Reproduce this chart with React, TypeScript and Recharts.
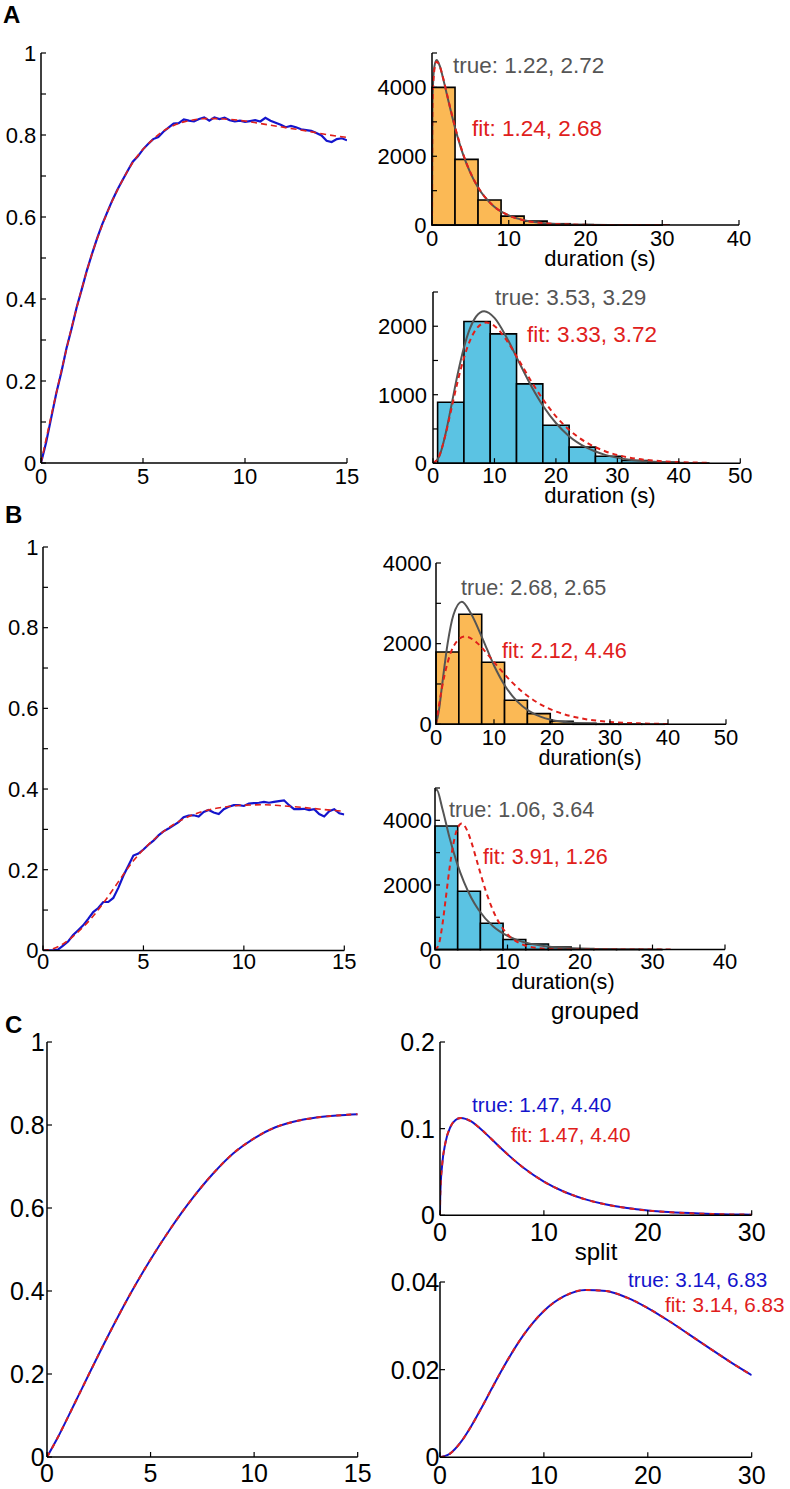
import React from 'react';
import { ComposedChart, Line, XAxis, YAxis, ReferenceArea } from 'recharts';

const FONT = '"Liberation Sans", Arial, Helvetica, sans-serif';
const ORANGE = '#FBB955';
const CYAN = '#5BC3E3';
const GRAY = '#555555';
const RED = '#E0201B';
const BLUE = '#1414CC';

// ---------- Panel A, left (time course) ----------
const A1_FIT_X = [0, 0.5, 1, 1.5, 2, 2.5, 3, 3.5, 4, 4.5, 5, 5.5, 6, 6.5, 7, 7.5, 8, 8.5, 9, 10, 11, 12, 13, 14, 15];
const A1_FIT_Y = [0, 0.115, 0.225, 0.33, 0.425, 0.51, 0.58, 0.64, 0.69, 0.733, 0.765, 0.79, 0.81, 0.823, 0.832, 0.837, 0.84, 0.84, 0.839, 0.834, 0.826, 0.818, 0.81, 0.801, 0.794];
const A1_OBS_X = [0, 0.25, 0.5, 0.75, 1, 1.25, 1.5, 1.75, 2, 2.25, 2.5, 2.75, 3, 3.25, 3.5, 3.75, 4, 4.25, 4.5, 4.75, 5, 5.25, 5.5, 5.75, 6, 6.25, 6.5, 6.75, 7, 7.25, 7.5, 7.75, 8, 8.25, 8.5, 8.75, 9, 9.25, 9.5, 9.75, 10, 10.25, 10.5, 10.75, 11, 11.25, 11.5, 11.75, 12, 12.25, 12.5, 12.75, 13, 13.25, 13.5, 13.75, 14, 14.25, 14.5, 14.75, 15];
const A1_OBS_Y = [0, 0.05, 0.11, 0.17, 0.222, 0.28, 0.328, 0.38, 0.424, 0.47, 0.51, 0.548, 0.582, 0.612, 0.641, 0.667, 0.69, 0.713, 0.735, 0.748, 0.765, 0.778, 0.79, 0.795, 0.808, 0.818, 0.828, 0.829, 0.838, 0.835, 0.833, 0.839, 0.843, 0.835, 0.843, 0.839, 0.842, 0.836, 0.833, 0.835, 0.832, 0.834, 0.836, 0.833, 0.842, 0.835, 0.83, 0.825, 0.819, 0.822, 0.819, 0.814, 0.812, 0.81, 0.805, 0.799, 0.786, 0.783, 0.79, 0.792, 0.787];

// ---------- Panel A, top-right histogram ----------
const A2_BIN_START = 0;
const A2_BIN_WIDTH = 3.0;
const A2_COUNTS = [4000, 1910, 727, 262, 116, 40, 14, 5, 2, 1];
const A2_TRUE_X = [0, 0.05, 0.1, 0.3, 0.6, 1, 1.5, 2, 3, 4, 5, 6, 8, 10, 12, 15, 20, 25, 31];
const A2_TRUE_Y = [0, 3395, 3885, 4595, 4796, 4631, 4212, 3736, 2828, 2085, 1517, 1092, 558, 281, 140, 49, 8, 1, 0];
const A2_FIT_X = [0, 0.05, 0.1, 0.3, 0.6, 1, 1.5, 2, 3, 4, 5, 6, 8, 10, 12, 15, 20, 25, 31];
const A2_FIT_Y = [0, 3210, 3721, 4495, 4747, 4622, 4227, 3758, 2853, 2104, 1529, 1100, 559, 279, 138, 48, 8, 1, 0];

// ---------- Panel A, bottom-right histogram ----------
const A3_BIN_START = 0.75;
const A3_BIN_WIDTH = 4.28;
const A3_COUNTS = [890, 2069, 1889, 1159, 555, 234, 102, 40, 15, 5];
const A3_TRUE_X = [0, 1, 2, 3, 4, 5, 6, 7, 8.32, 10, 12, 14, 16, 18, 20, 22, 25, 28, 32, 36, 40, 45];
const A3_TRUE_Y = [0, 97, 412, 847, 1294, 1679, 1966, 2141, 2220, 2122, 1833, 1474, 1125, 825, 587, 406, 226, 121, 50, 20, 8, 2];
const A3_FIT_X = [0, 1, 2, 3, 4, 5, 6, 7, 8.67, 10, 12, 14, 16, 18, 20, 22, 25, 28, 32, 36, 40, 45];
const A3_FIT_Y = [0, 105, 405, 796, 1189, 1528, 1787, 1955, 2055, 2004, 1791, 1498, 1194, 918, 685, 500, 301, 175, 81, 37, 16, 6];

// ---------- Panel B, left (time course) ----------
const B1_FIT_X = [0, 0.5, 1, 1.5, 2, 2.5, 3, 3.5, 4, 4.5, 5, 5.5, 6, 6.5, 7, 7.5, 8, 8.5, 9, 10, 11, 12, 13, 14, 15];
const B1_FIT_Y = [0, 0.004, 0.016, 0.035, 0.058, 0.085, 0.117, 0.152, 0.188, 0.222, 0.25, 0.274, 0.295, 0.312, 0.326, 0.337, 0.345, 0.351, 0.355, 0.36, 0.361, 0.358, 0.354, 0.349, 0.345];
const B1_OBS_X = [0, 0.25, 0.5, 0.75, 1, 1.25, 1.5, 1.75, 2, 2.25, 2.5, 2.75, 3, 3.25, 3.5, 3.75, 4, 4.25, 4.5, 4.75, 5, 5.25, 5.5, 5.75, 6, 6.25, 6.5, 6.75, 7, 7.25, 7.5, 7.75, 8, 8.25, 8.5, 8.75, 9, 9.25, 9.5, 9.75, 10, 10.25, 10.5, 10.75, 11, 11.25, 11.5, 11.75, 12, 12.25, 12.5, 12.75, 13, 13.25, 13.5, 13.75, 14, 14.25, 14.5, 14.75, 15];
const B1_OBS_Y = [0, 0, 0, 0.002, 0.012, 0.022, 0.038, 0.05, 0.062, 0.078, 0.095, 0.105, 0.12, 0.12, 0.13, 0.155, 0.185, 0.21, 0.235, 0.24, 0.25, 0.262, 0.272, 0.285, 0.295, 0.302, 0.31, 0.318, 0.33, 0.334, 0.335, 0.332, 0.343, 0.348, 0.342, 0.338, 0.35, 0.356, 0.36, 0.36, 0.358, 0.364, 0.365, 0.366, 0.368, 0.366, 0.368, 0.37, 0.372, 0.36, 0.35, 0.35, 0.351, 0.348, 0.35, 0.338, 0.332, 0.345, 0.35, 0.34, 0.337];

// ---------- Panel B, top-right histogram ----------
const B2_BIN_START = 0;
const B2_BIN_WIDTH = 3.94;
const B2_COUNTS = [1793, 2728, 1538, 595, 265, 75, 25, 8, 3, 1];
const B2_TRUE_X = [0, 0.5, 1, 2, 3, 4.45, 6, 8, 10, 12, 14, 16, 18, 20, 23, 26, 30];
const B2_TRUE_Y = [0, 343, 910, 1999, 2709, 3040, 2752, 2133, 1459, 932, 568, 334, 191, 107, 44, 17, 4];
const B2_FIT_X = [0, 0.5, 1, 2, 3, 5, 7, 9, 11, 13, 15, 18, 21, 25, 30, 35, 40];
const B2_FIT_Y = [0, 454, 881, 1531, 1926, 2180, 2030, 1717, 1373, 1057, 793, 496, 301, 149, 60, 23, 9];

// ---------- Panel B, bottom-right histogram ----------
const B3_BIN_START = 0;
const B3_BIN_WIDTH = 3.13;
const B3_COUNTS = [3824, 1806, 815, 313, 175, 80, 30, 10, 4, 1];
const B3_TRUE_X = [0, 0.218, 1, 2, 3, 4, 5, 6, 8, 10, 12, 15, 18, 22, 26, 30];
const B3_TRUE_Y = [4900, 4950, 4375, 3465, 2698, 2085, 1606, 1234, 724, 424, 247, 110, 49, 16, 5, 2];
const B3_FIT_X = [0, 0.5, 1, 1.5, 2, 2.5, 3, 3.67, 4.5, 5, 6, 7, 8, 9, 10, 11, 12, 14, 16, 20, 25, 33];
const B3_FIT_Y = [0, 146, 738, 1615, 2509, 3230, 3691, 3900, 3654, 3338, 2566, 1817, 1212, 772, 474, 283, 165, 53, 16, 1, 0, 0];

// ---------- Panel C ----------
const C1_X = [0, 0.5, 1, 1.5, 2, 3, 4, 5, 6, 7, 8, 9, 10, 11, 12, 13, 14, 15];
const C1_Y = [0, 0.045, 0.095, 0.146, 0.197, 0.297, 0.391, 0.476, 0.553, 0.622, 0.682, 0.732, 0.768, 0.794, 0.809, 0.818, 0.823, 0.826];
const C2_X = [0, 0.01, 0.05, 0.2, 0.5, 1, 1.5, 2, 3, 4, 5, 6, 8, 10, 12, 14, 16, 18, 20, 22, 25, 28, 30];
const C2_Y = [0, 0.0147, 0.0309, 0.0574, 0.0824, 0.1019, 0.11, 0.1124, 0.1084, 0.0988, 0.0875, 0.0759, 0.0552, 0.0389, 0.0269, 0.01835, 0.0124, 0.00832, 0.00555, 0.00368, 0.00198, 0.00106, 0.00069];
const C3_X = [0, 1, 2, 3, 4, 5, 6, 8, 10, 12, 14, 16, 18, 20, 22, 24, 26, 28, 30];
const C3_Y = [0, 0.000904, 0.00344, 0.00708, 0.01131, 0.01576, 0.0201, 0.02777, 0.03339, 0.03681, 0.0382, 0.03793, 0.03643, 0.03405, 0.03116, 0.028, 0.02479, 0.02166, 0.01874];

// ---------- axis ticks ----------
const T_TIME_X = [0, 5, 10, 15];
const T_FRAC_Y = [0, 0.1, 0.2, 0.3, 0.4, 0.5, 0.6, 0.7, 0.8, 0.9, 1];
const L_FRAC_Y = [0, 0.2, 0.4, 0.6, 0.8, 1];
const T_FRAC_Y_C = [0, 0.2, 0.4, 0.6, 0.8, 1];
const T_X40 = [0, 10, 20, 30, 40];
const T_X50 = [0, 10, 20, 30, 40, 50];
const T_X30 = [0, 10, 20, 30];
const T_Y5000 = [0, 1000, 2000, 3000, 4000, 5000];
const L_Y5000 = [0, 2000, 4000];
const T_Y2500 = [0, 500, 1000, 1500, 2000, 2500];
const L_Y2500 = [0, 1000, 2000];
const T_Y4000 = [0, 1000, 2000, 3000, 4000];
const L_Y4000 = [0, 2000, 4000];
const T_Y02 = [0, 0.1, 0.2];
const T_Y004 = [0, 0.02, 0.04];

const zip = (xs: number[], ys: number[]) => xs.map((x, i) => ({ x, y: ys[i] }));

type Curve = { xs: number[]; ys: number[]; color: string; width: number; dash?: string; kind: 'monotone' | 'linear' };
type Hist = { start: number; width: number; counts: number[]; fill: string };

type PanelProps = {
  rect: [number, number, number, number];
  xDomain: [number, number];
  xTicks: number[];
  yDomain: [number, number];
  yTicks: number[];
  yLabeled: number[];
  fs: number;
  yGap: number;
  xGap: number;
  hist?: Hist;
  curves: Curve[];
};

const TICK_LEN = 5;

// y-axis tick: inward tick mark + right-aligned label
const makeYTick = (fs: number, labeled: number[], axisX: number, gap: number) => (p: any) => {
  const v = p.payload && p.payload.value;
  return (
    <g>
      <line x1={axisX} x2={axisX + TICK_LEN} y1={p.y} y2={p.y} stroke="#000" strokeWidth={1.2} />
      {labeled.includes(v) && (
        <text x={axisX - gap} y={p.y} dy="0.355em" textAnchor="end" fontSize={fs} fontFamily={FONT} fill="#000">
          {String(v)}
        </text>
      )}
    </g>
  );
};

// x-axis tick: inward tick mark + centred label below
const makeXTick = (fs: number, axisY: number, gap: number) => (p: any) => {
  const v = p.payload && p.payload.value;
  return (
    <g>
      <line x1={p.x} x2={p.x} y1={axisY} y2={axisY - TICK_LEN} stroke="#000" strokeWidth={1.2} />
      <text x={p.x} y={axisY + gap} dy="0.71em" textAnchor="middle" fontSize={fs} fontFamily={FONT} fill="#000">
        {String(v)}
      </text>
    </g>
  );
};

function Panel({ rect, xDomain, xTicks, yDomain, yTicks, yLabeled, fs, yGap, xGap, hist, curves }: PanelProps) {
  const [x0, x1, yTop, yBot] = rect;
  const YW = 80, R = 30, T = 24, XH = 45;
  const w = x1 - x0 + YW + R;
  const h = yBot - yTop + T + XH;
  const axisY = T + (yBot - yTop);
  return (
    <div style={{ position: 'absolute', left: x0 - YW, top: yTop - T, width: w, height: h }}>
      <ComposedChart width={w} height={h} margin={{ top: T, right: R, bottom: 0, left: 0 }}>
        <XAxis
          type="number"
          dataKey="x"
          domain={xDomain}
          ticks={xTicks}
          interval={0}
          allowDataOverflow
          height={XH}
          tickLine={false}
          axisLine={{ stroke: '#000', strokeWidth: 1.5 }}
          tick={makeXTick(fs, axisY, xGap)}
        />
        <YAxis
          type="number"
          domain={yDomain}
          ticks={yTicks}
          interval={0}
          allowDataOverflow
          width={YW}
          tickLine={false}
          axisLine={{ stroke: '#000', strokeWidth: 1.5 }}
          tick={makeYTick(fs, yLabeled, YW, yGap)}
        />
        {hist &&
          hist.counts.map((c, i) => (
            <ReferenceArea
              key={'b' + i}
              x1={hist.start + i * hist.width}
              x2={hist.start + (i + 1) * hist.width}
              y1={0}
              y2={c}
              fill={hist.fill}
              fillOpacity={1}
              stroke="#000"
              strokeWidth={1.6}
              ifOverflow="visible"
            />
          ))}
        {curves.map((c, i) => (
          <Line
            key={'l' + i}
            data={zip(c.xs, c.ys)}
            dataKey="y"
            type={c.kind}
            stroke={c.color}
            strokeWidth={c.width}
            strokeDasharray={c.dash}
            dot={false}
            activeDot={false}
            isAnimationActive={false}
          />
        ))}
      </ComposedChart>
    </div>
  );
}

export default function App() {
  return (
    <div style={{ position: 'absolute', left: 0, top: 0, width: 790, height: 1489, background: '#fff', overflow: 'hidden' }}>
      {/* A left */}
      <Panel
        rect={[40.7, 346.7, 52.7, 462.7]}
        xDomain={[0, 15]} xTicks={T_TIME_X}
        yDomain={[0, 1]} yTicks={T_FRAC_Y} yLabeled={L_FRAC_Y}
        fs={22} yGap={4.7} xGap={5}
        curves={[
          { xs: A1_OBS_X, ys: A1_OBS_Y, color: BLUE, width: 2.2, kind: 'linear' },
          { xs: A1_FIT_X, ys: A1_FIT_Y, color: RED, width: 1.6, dash: '6 4', kind: 'monotone' },
        ]}
      />
      {/* A top right */}
      <Panel
        rect={[432.3, 739.3, 52.9, 225]}
        xDomain={[0, 40]} xTicks={T_X40}
        yDomain={[0, 5000]} yTicks={T_Y5000} yLabeled={L_Y5000}
        fs={22} yGap={5.6} xGap={5}
        hist={{ start: A2_BIN_START, width: A2_BIN_WIDTH, counts: A2_COUNTS, fill: ORANGE }}
        curves={[
          { xs: A2_TRUE_X, ys: A2_TRUE_Y, color: GRAY, width: 2, kind: 'monotone' },
          { xs: A2_FIT_X, ys: A2_FIT_Y, color: RED, width: 2, dash: '5 4', kind: 'monotone' },
        ]}
      />
      {/* A bottom right */}
      <Panel
        rect={[432.7, 740, 291.5, 462.7]}
        xDomain={[0, 50]} xTicks={T_X50}
        yDomain={[0, 2500]} yTicks={T_Y2500} yLabeled={L_Y2500}
        fs={22} yGap={6} xGap={4.6}
        hist={{ start: A3_BIN_START, width: A3_BIN_WIDTH, counts: A3_COUNTS, fill: CYAN }}
        curves={[
          { xs: A3_TRUE_X, ys: A3_TRUE_Y, color: GRAY, width: 2, kind: 'monotone' },
          { xs: A3_FIT_X, ys: A3_FIT_Y, color: RED, width: 2, dash: '5 4', kind: 'monotone' },
        ]}
      />
      {/* B left */}
      <Panel
        rect={[42.7, 344, 547.3, 950.7]}
        xDomain={[0, 15]} xTicks={T_TIME_X}
        yDomain={[0, 1]} yTicks={T_FRAC_Y} yLabeled={L_FRAC_Y}
        fs={22} yGap={4.4} xGap={3.3}
        curves={[
          { xs: B1_OBS_X, ys: B1_OBS_Y, color: BLUE, width: 2.2, kind: 'linear' },
          { xs: B1_FIT_X, ys: B1_FIT_Y, color: RED, width: 1.6, dash: '6 4', kind: 'monotone' },
        ]}
      />
      {/* B top right */}
      <Panel
        rect={[436, 726, 562.7, 724]}
        xDomain={[0, 50]} xTicks={T_X50}
        yDomain={[0, 4000]} yTicks={T_Y4000} yLabeled={L_Y4000}
        fs={22} yGap={4.3} xGap={5.3}
        hist={{ start: B2_BIN_START, width: B2_BIN_WIDTH, counts: B2_COUNTS, fill: ORANGE }}
        curves={[
          { xs: B2_TRUE_X, ys: B2_TRUE_Y, color: GRAY, width: 2, kind: 'monotone' },
          { xs: B2_FIT_X, ys: B2_FIT_Y, color: RED, width: 2, dash: '5 4', kind: 'monotone' },
        ]}
      />
      {/* B bottom right */}
      <Panel
        rect={[435, 725, 787.7, 949.3]}
        xDomain={[0, 40]} xTicks={T_X40}
        yDomain={[0, 5000]} yTicks={T_Y5000} yLabeled={L_Y5000}
        fs={22} yGap={3} xGap={4}
        hist={{ start: B3_BIN_START, width: B3_BIN_WIDTH, counts: B3_COUNTS, fill: CYAN }}
        curves={[
          { xs: B3_TRUE_X, ys: B3_TRUE_Y, color: GRAY, width: 2, kind: 'monotone' },
          { xs: B3_FIT_X, ys: B3_FIT_Y, color: RED, width: 2, dash: '5 4', kind: 'monotone' },
        ]}
      />
      {/* C left */}
      <Panel
        rect={[47.3, 358, 1042.3, 1457.3]}
        xDomain={[0, 15]} xTicks={T_TIME_X}
        yDomain={[0, 1]} yTicks={T_FRAC_Y_C} yLabeled={T_FRAC_Y_C}
        fs={25} yGap={2.3} xGap={7}
        curves={[
          { xs: C1_X, ys: C1_Y, color: BLUE, width: 2, kind: 'monotone' },
          { xs: C1_X, ys: C1_Y, color: RED, width: 2, dash: '5 5', kind: 'monotone' },
        ]}
      />
      {/* C top right */}
      <Panel
        rect={[440, 751.7, 1041.7, 1215]}
        xDomain={[0, 30]} xTicks={T_X30}
        yDomain={[0, 0.2]} yTicks={T_Y02} yLabeled={T_Y02}
        fs={25} yGap={5} xGap={8}
        curves={[
          { xs: C2_X, ys: C2_Y, color: BLUE, width: 2, kind: 'monotone' },
          { xs: C2_X, ys: C2_Y, color: RED, width: 2, dash: '5 5', kind: 'monotone' },
        ]}
      />
      {/* C bottom right */}
      <Panel
        rect={[440, 751.7, 1282, 1457.3]}
        xDomain={[0, 30]} xTicks={T_X30}
        yDomain={[0, 0.04]} yTicks={T_Y004} yLabeled={T_Y004}
        fs={25} yGap={0.5} xGap={9}
        curves={[
          { xs: C3_X, ys: C3_Y, color: BLUE, width: 2, kind: 'monotone' },
          { xs: C3_X, ys: C3_Y, color: RED, width: 2, dash: '5 5', kind: 'monotone' },
        ]}
      />

      <svg width={790} height={1489} style={{ position: 'absolute', left: 0, top: 0, pointerEvents: 'none' }} fontFamily={FONT}>
        <text x={3} y={23} fontSize={24} fontWeight="bold" fill="#000">A</text>
        <text x={5} y={523} fontSize={24} fontWeight="bold" fill="#000">B</text>
        <text x={5} y={1033} fontSize={24} fontWeight="bold" fill="#000">C</text>

        <text x={453} y={73} fontSize={22.5} fill={GRAY}>true: 1.22, 2.72</text>
        <text x={472} y={136} fontSize={22.5} fill={RED}>fit: 1.24, 2.68</text>
        <text x={600} y={266} fontSize={22} fill="#000" textAnchor="middle">duration (s)</text>

        <text x={495} y={305} fontSize={22.5} fill={GRAY}>true: 3.53, 3.29</text>
        <text x={527} y={341.7} fontSize={22.5} fill={RED}>fit: 3.33, 3.72</text>
        <text x={600} y={503} fontSize={22} fill="#000" textAnchor="middle">duration (s)</text>

        <text x={461} y={595} fontSize={21.6} fill={GRAY}>true: 2.68, 2.65</text>
        <text x={502} y={658} fontSize={21.6} fill={RED}>fit: 2.12, 4.46</text>
        <text x={590} y={765} fontSize={21.6} fill="#000" textAnchor="middle">duration(s)</text>

        <text x={449} y={816.7} fontSize={21.6} fill={GRAY}>true: 1.06, 3.64</text>
        <text x={483} y={864} fontSize={21.6} fill={RED}>fit: 3.91, 1.26</text>
        <text x={563} y={989} fontSize={21.6} fill="#000" textAnchor="middle">duration(s)</text>

        <text x={595} y={1019} fontSize={24} fill="#000" textAnchor="middle">grouped</text>
        <text x={472} y={1111.7} fontSize={20.7} fill={BLUE}>true: 1.47, 4.40</text>
        <text x={511} y={1141.7} fontSize={20.7} fill={RED}>fit: 1.47, 4.40</text>

        <text x={596} y={1260} fontSize={24} fill="#000" textAnchor="middle">split</text>
        <text x={628} y={1286.7} fontSize={20.7} fill={BLUE}>true: 3.14, 6.83</text>
        <text x={665} y={1311.7} fontSize={20.7} fill={RED}>fit: 3.14, 6.83</text>
      </svg>
    </div>
  );
}
